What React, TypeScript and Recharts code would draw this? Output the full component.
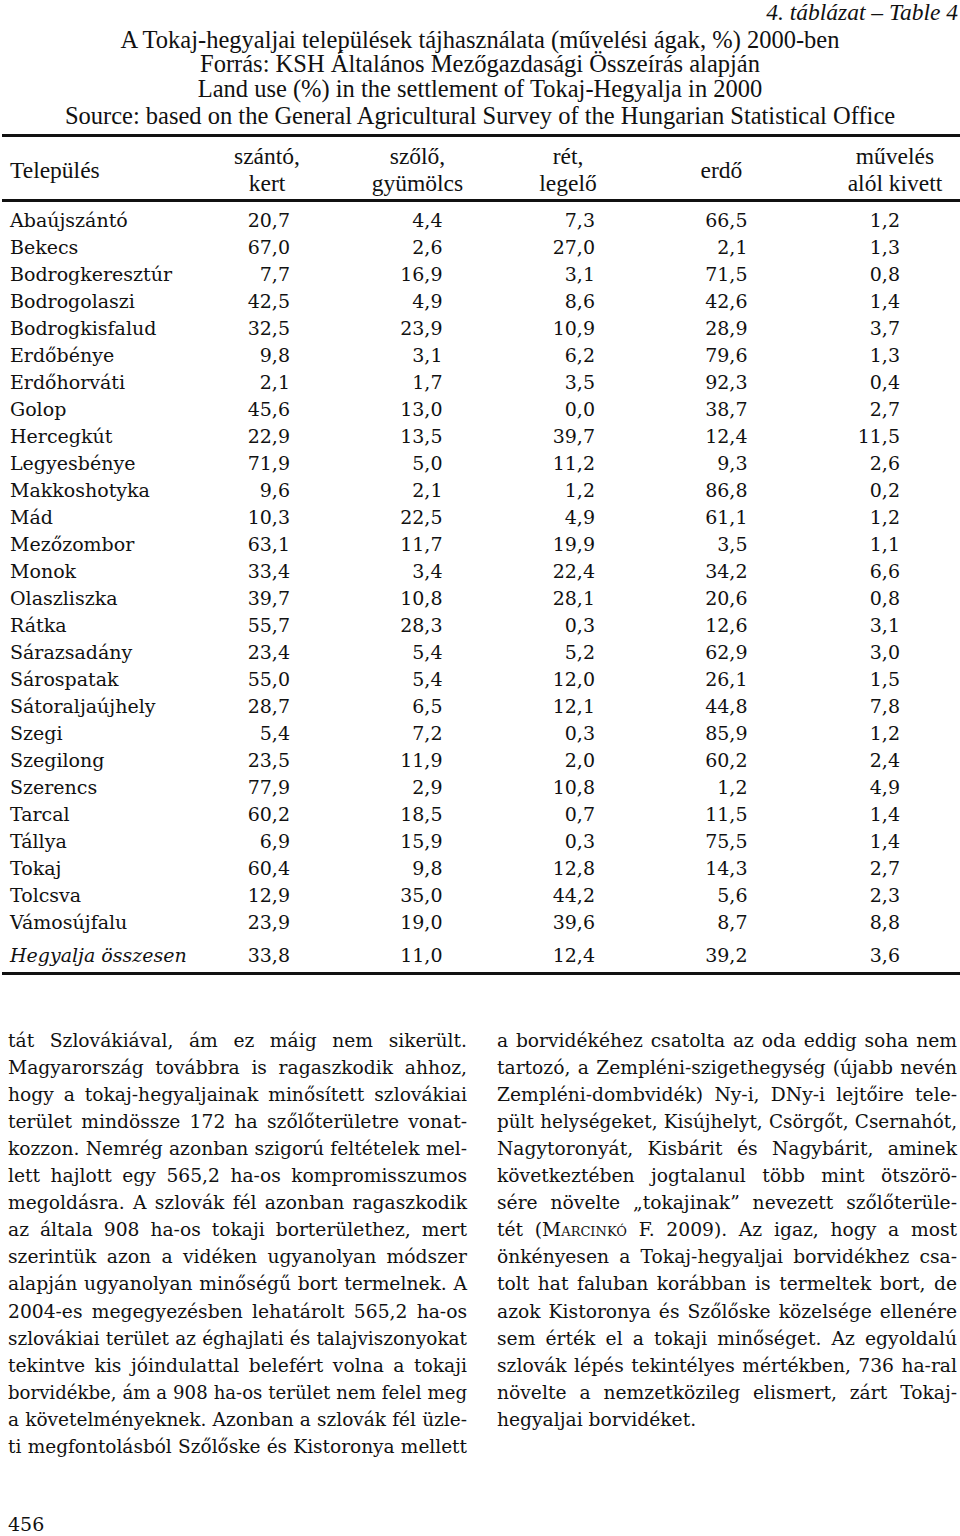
import React from "react"
import { ScatterChart, Scatter, XAxis, YAxis } from "recharts"

const SETTLEMENTS = [
  "Abaújszántó", "Bekecs", "Bodrogkeresztúr", "Bodrogolaszi", "Bodrogkisfalud",
  "Erdőbénye", "Erdőhorváti", "Golop", "Hercegkút", "Legyesbénye", "Makkoshotyka",
  "Mád", "Mezőzombor", "Monok", "Olaszliszka", "Rátka", "Sárazsadány", "Sárospatak",
  "Sátoraljaújhely", "Szegi", "Szegilong", "Szerencs", "Tarcal", "Tállya", "Tokaj",
  "Tolcsva", "Vámosújfalu",
]
const TOTAL_LABEL = "Hegyalja összesen"

const SZANTO = [20.7, 67.0, 7.7, 42.5, 32.5, 9.8, 2.1, 45.6, 22.9, 71.9, 9.6, 10.3, 63.1, 33.4, 39.7, 55.7, 23.4, 55.0, 28.7, 5.4, 23.5, 77.9, 60.2, 6.9, 60.4, 12.9, 23.9]
const SZOLO = [4.4, 2.6, 16.9, 4.9, 23.9, 3.1, 1.7, 13.0, 13.5, 5.0, 2.1, 22.5, 11.7, 3.4, 10.8, 28.3, 5.4, 5.4, 6.5, 7.2, 11.9, 2.9, 18.5, 15.9, 9.8, 35.0, 19.0]
const RET = [7.3, 27.0, 3.1, 8.6, 10.9, 6.2, 3.5, 0.0, 39.7, 11.2, 1.2, 4.9, 19.9, 22.4, 28.1, 0.3, 5.2, 12.0, 12.1, 0.3, 2.0, 10.8, 0.7, 0.3, 12.8, 44.2, 39.6]
const ERDO = [66.5, 2.1, 71.5, 42.6, 28.9, 79.6, 92.3, 38.7, 12.4, 9.3, 86.8, 61.1, 3.5, 34.2, 20.6, 12.6, 62.9, 26.1, 44.8, 85.9, 60.2, 1.2, 11.5, 75.5, 14.3, 5.6, 8.7]
const KIVETT = [1.2, 1.3, 0.8, 1.4, 3.7, 1.3, 0.4, 2.7, 11.5, 2.6, 0.2, 1.2, 1.1, 6.6, 0.8, 3.1, 3.0, 1.5, 7.8, 1.2, 2.4, 4.9, 1.4, 1.4, 2.7, 2.3, 8.8]
const TOTALS = [33.8, 11.0, 12.4, 39.2, 3.6]

const COLUMN_HEADERS = [
  ["szántó,", "kert"],
  ["szőlő,", "gyümölcs"],
  ["rét,", "legelő"],
  ["erdő"],
  ["művelés", "alól kivett"],
]

const TABLE_NO = "4. táblázat – Table 4"
const TITLE_LINES = [
  "A Tokaj-hegyaljai települések tájhasználata (művelési ágak, %) 2000-ben",
  "Forrás: KSH Általános Mezőgazdasági Összeírás alapján",
  "Land use (%) in the settlement of Tokaj-Hegyalja in 2000",
  "Source: based on the General Agricultural Survey of the Hungarian Statistical Office",
]

const LEFT_LINES = [
  "tát Szlovákiával, ám ez máig nem sikerült.",
  "Magyarország továbbra is ragaszkodik ahhoz,",
  "hogy a tokaj-hegyaljainak minősített szlovákiai",
  "terület mindössze 172 ha szőlőterületre vonat-",
  "kozzon. Nemrég azonban szigorú feltételek mel-",
  "lett hajlott egy 565,2 ha-os kompromisszumos",
  "megoldásra. A szlovák fél azonban ragaszkodik",
  "az általa 908 ha-os tokaji borterülethez, mert",
  "szerintük azon a vidéken ugyanolyan módszer",
  "alapján ugyanolyan minőségű bort termelnek. A",
  "2004-es megegyezésben lehatárolt 565,2 ha-os",
  "szlovákiai terület az éghajlati és talajviszonyokat",
  "tekintve kis jóindulattal belefért volna a tokaji",
  "borvidékbe, ám a 908 ha-os terület nem felel meg",
  "a követelményeknek. Azonban a szlovák fél üzle-",
  "ti megfontolásból Szőlőske és Kistoronya mellett",
]
const RIGHT_LINES = [
  "a borvidékéhez csatolta az oda eddig soha nem",
  "tartozó, a Zempléni-szigethegység (újabb nevén",
  "Zempléni-dombvidék) Ny-i, DNy-i lejtőire tele-",
  "pült helységeket, Kisújhelyt, Csörgőt, Csernahót,",
  "Nagytoronyát, Kisbárit és Nagybárit, aminek",
  "következtében jogtalanul több mint ötszörö-",
  "sére növelte „tokajinak” nevezett szőlőterüle-",
  "tét (@MARCINKÓ F. 2009). Az igaz, hogy a most",
  "önkényesen a Tokaj-hegyaljai borvidékhez csa-",
  "tolt hat faluban korábban is termeltek bort, de",
  "azok Kistoronya és Szőlőske közelsége ellenére",
  "sem érték el a tokaji minőséget. Az egyoldalú",
  "szlovák lépés tekintélyes mértékben, 736 ha-ral",
  "növelte a nemzetközileg elismert, zárt Tokaj-",
  "hegyaljai borvidéket.",
]
const PAGE_NO = "456"

const INK = "#111"
const TIMES = "'Liberation Serif', 'Times New Roman', serif"
const CENTURY = "'DejaVu Serif', serif"
const BODY_SIZE = 18.7

const columns = [SZANTO, SZOLO, RET, ERDO, KIVETT]
const TOTAL_ROW = SETTLEMENTS.length + 0.22
const rowTicks = [...SETTLEMENTS.map((_, i) => i), TOTAL_ROW]
const seriesData = columns.map((vals, c) => [
  ...vals.map((v, i) => ({ col: c + 1, row: i, v })),
  { col: c + 1, row: TOTAL_ROW, v: TOTALS[c] },
])

const fmt = (v: number) => v.toFixed(1).replace(".", ",")

// header centers sit a bit left of the number columns' right edge
const HEADER_SHIFT = [-23, -25, -27, -26, -5]

const measureCtx = typeof document !== "undefined" ? document.createElement("canvas").getContext("2d") : null

// shrink a body line a little when the local font runs wider than the printed one
function fitSize(text: string, width: number, base: number) {
  if (!measureCtx) return base
  measureCtx.font = `${base}px 'DejaVu Serif'`
  const w = measureCtx.measureText(text.replace("@", "")).width
  return w > width - 2 ? (base * (width - 2)) / w : base
}

function CellText(props: any) {
  const { cx, cy, payload } = props
  return (
    <text x={cx} y={cy} dy="0.36em" textAnchor="end" fontFamily={CENTURY} fontSize={19} fill={INK}>
      {fmt(payload.v)}
    </text>
  )
}

function NameTick(props: any) {
  const { y, payload } = props
  const idx = rowTicks.indexOf(payload.value)
  const isTotal = idx >= SETTLEMENTS.length
  return (
    <text
      x={10}
      y={y}
      dy="0.36em"
      textAnchor="start"
      fontFamily={CENTURY}
      fontSize={19}
      fontStyle={isTotal ? "italic" : "normal"}
      fill={INK}
    >
      {isTotal ? TOTAL_LABEL : SETTLEMENTS[idx]}
    </text>
  )
}

function HeaderTick(props: any) {
  const { x, payload } = props
  const c = payload.value - 1
  const lines = COLUMN_HEADERS[c]
  const cx = x + HEADER_SHIFT[c]
  const ys = lines.length === 1 ? [170] : [156, 183]
  return (
    <g>
      {lines.map((l, i) => (
        <text key={i} x={cx} y={ys[i]} dy="0.35em" textAnchor="middle" fontFamily={TIMES} fontSize={23.5} fill={INK}>
          {l}
        </text>
      ))}
    </g>
  )
}

function Rule({ top }: { top: number }) {
  return <div style={{ position: "absolute", left: 2, top, width: 958, height: 3, background: INK }} />
}

function BodyLine({ text, left, width, top, last }: { text: string; left: number; width: number; top: number; last?: boolean }) {
  let content: React.ReactNode = text
  if (text.includes("@")) {
    const [a, rest] = text.split("@")
    const name = rest.slice(0, 8)
    content = (
      <>
        {a}
        <span style={{ fontVariant: "small-caps" }}>{"M" + name.slice(1).toLowerCase()}</span>
        {rest.slice(8)}
      </>
    )
  }
  return (
    <div
      style={{
        position: "absolute",
        left,
        top,
        width,
        height: 27,
        lineHeight: "27px",
        fontFamily: CENTURY,
        fontSize: fitSize(text, width, BODY_SIZE),
        color: INK,
        whiteSpace: "nowrap",
        textAlign: last ? "left" : "justify",
        textAlignLast: last ? "left" : "justify",
      }}
    >
      {content}
    </div>
  )
}

export default function App() {
  return (
    <div style={{ position: "absolute", left: 0, top: 0, width: 960, height: 1536, background: "#fff", overflow: "hidden" }}>
      <div
        style={{
          position: "absolute", right: 2, top: -1, lineHeight: "26px",
          fontFamily: TIMES, fontStyle: "italic", fontSize: 23.5, color: INK,
        }}
      >
        {TABLE_NO}
      </div>
      {TITLE_LINES.map((t, i) => (
        <div
          key={i}
          style={{
            position: "absolute", left: 0, width: 960, textAlign: "center",
            top: [27, 51, 76, 103][i], lineHeight: "26px",
            fontFamily: TIMES, fontSize: 24.5, color: INK,
          }}
        >
          {t}
        </div>
      ))}

      <Rule top={134} />
      <Rule top={198.5} />
      <Rule top={971.5} />

      <div
        style={{
          position: "absolute", left: 10, top: 157, lineHeight: "26px",
          fontFamily: TIMES, fontSize: 23.5, color: INK,
        }}
      >
        Település
      </div>

      <div style={{ position: "absolute", left: 0, top: 0 }}>
        <ScatterChart width={960} height={1000} margin={{ top: 146.5, right: 60, bottom: 37.5, left: 0 }}>
          <XAxis
            type="number"
            dataKey="col"
            orientation="top"
            domain={[0, 5]}
            ticks={[1, 2, 3, 4, 5]}
            interval={0}
            height={60}
            axisLine={false}
            tickLine={false}
            tick={(p: any) => <HeaderTick {...p} />}
          />
          <YAxis
            type="number"
            dataKey="row"
            domain={[-0.5, 27.5]}
            reversed
            ticks={rowTicks}
            interval={0}
            width={137.5}
            axisLine={false}
            tickLine={false}
            tick={(p: any) => <NameTick {...p} />}
          />
          {seriesData.map((d, c) => (
            <Scatter key={c} data={d} isAnimationActive={false} shape={(p: any) => <CellText {...p} />} />
          ))}
        </ScatterChart>
      </div>

      {LEFT_LINES.map((t, i) => (
        <BodyLine key={"l" + i} text={t} left={8} width={459} top={1026.5 + i * 27.1} />
      ))}
      {RIGHT_LINES.map((t, i) => (
        <BodyLine
          key={"r" + i}
          text={t}
          left={497}
          width={460}
          top={1026.5 + i * 27.1}
          last={i === RIGHT_LINES.length - 1}
        />
      ))}
      <div
        style={{
          position: "absolute", left: 8, top: 1511, lineHeight: "27px",
          fontFamily: CENTURY, fontSize: 19, color: INK,
        }}
      >
        {PAGE_NO}
      </div>
    </div>
  )
}
